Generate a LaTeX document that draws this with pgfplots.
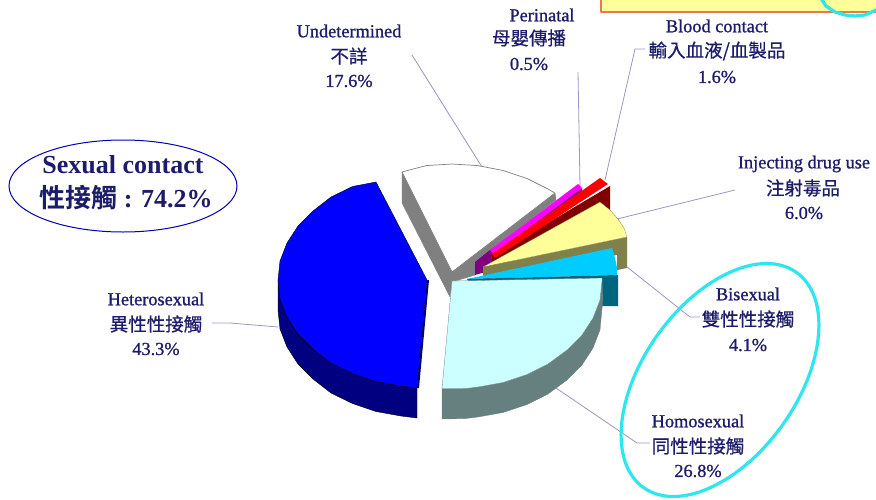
\documentclass[border=0pt]{standalone}
\usepackage{pgfplots}
\pgfplotsset{compat=1.18}
\usepackage{fontspec}
\usetikzlibrary{shapes.geometric}
\setmainfont{Liberation Serif}
\newfontfamily\lab[FakeBold=1]{Liberation Serif}
\newfontfamily\labb{Liberation Serif Bold}
\newfontfamily\cjk[FakeBold=0.6]{Noto Sans CJK TC}
\newfontfamily\cjkb{Noto Sans CJK TC Bold}
\definecolor{tx}{HTML}{1C1C6A}
\definecolor{ld}{HTML}{9A98C0}
\definecolor{cy}{HTML}{2EE6EE}
\definecolor{byl}{HTML}{FFFF99}
\definecolor{bor}{HTML}{E87850}
\definecolor{c1}{HTML}{0000FF}
\definecolor{c1d}{HTML}{000080}
\definecolor{c2}{HTML}{CCFFFF}
\definecolor{c2d}{HTML}{668080}
\definecolor{c3}{HTML}{00CCFF}
\definecolor{c3d}{HTML}{006680}
\definecolor{c4}{HTML}{FFFF99}
\definecolor{c4d}{HTML}{80804D}
\definecolor{c5}{HTML}{FF0000}
\definecolor{c5d}{HTML}{800000}
\definecolor{c6}{HTML}{FF00FF}
\definecolor{c6d}{HTML}{800080}
\definecolor{c7d}{HTML}{808080}
\begin{document}
\begin{tikzpicture}
\useasboundingbox (0,0) rectangle (876pt,499pt);
\clip (0,0) rectangle (876pt,499pt);
\begin{axis}[hide axis,scale only axis,width=876pt,height=499pt,xmin=0,xmax=876,ymin=0,ymax=499,y dir=reverse,
  every axis plot/.append style={line join=round}]
% box at top right
\addplot[fill=byl,draw=bor,line width=1.2pt] coordinates {(601,-10)(601,12)(890,12)(890,-10)} --cycle;
\addplot[draw=cy,line width=3.2pt] coordinates {(820,-3)(826,6)(835,12)(845,15)(855,16)(865,15)(876,10)(882,6)};
% leader lines
\addplot[draw=ld,line width=.8pt] coordinates {(412,55)(482,167)};
\addplot[draw=ld,line width=.8pt] coordinates {(578,72)(580,186)};
\addplot[draw=ld,line width=.8pt] coordinates {(645,49)(635,49)(605,180)};
\addplot[draw=ld,line width=.8pt] coordinates {(735,190)(617,219)};
\addplot[draw=ld,line width=.8pt] coordinates {(700,317)(690,317)(622,263)};
\addplot[draw=ld,line width=.8pt] coordinates {(650,443)(637,443)(556,388)};
\addplot[draw=ld,line width=.8pt] coordinates {(278,327)(230,323)(212,323)};
% blue side
\addplot[fill=c1d,draw=black,line width=.4pt] coordinates {(278,280)(280,299)(287,317)(298,334)(313,349)(331,363)(352.5,373.5)(376,381.5)(401,386)(417,388)(417,418)(401,416)(376,411.5)(352.5,403.5)(331,393)(313,379)(298,364)(287,347)(280,329)(278,310)} --cycle;
\addplot[fill=c1d,draw=none] coordinates {(427,280)(429,280)(419,388)(417,388)} --cycle;
\addplot[fill=c1,draw=black,line width=.4pt] coordinates {(427,280)(376,182)(352.5,186.5)(331,197)(313,211)(298,226)(287,243)(280,261)(278,280)(280,299)(287,317)(298,334)(313,349)(331,363)(352.5,373.5)(376,381.5)(401,386)(417,388)} --cycle;
% white slice
\addplot[fill=c7d,draw=c7d,line width=.4pt] coordinates {(402,172)(452,272)(555,193)(556,200)(475,262)(475,275)(452,282)(450,297)(402,203)} --cycle;
\addplot[fill=white,draw=c7d,line width=.7pt] coordinates {(452,272)(402,172)(426,165.6)(452,164)(478,165.6)(503,170.5)(527,178.5)(548,189)(555,193)} --cycle;
% magenta
\addplot[fill=c6d,draw=none] coordinates {(475,262)(490,250)(582,188)(582,192)(492,262)(492,270)(475,275)} --cycle;
\addplot[fill=c6,draw=none] coordinates {(490,250)(578,184)(582,188)(494,254)} --cycle;
% red
\addplot[fill=c5d,draw=none] coordinates {(492,256)(610,186)(610,212)(492,270)} --cycle;
\addplot[fill=c5,draw=none] coordinates {(492,254)(600,178)(608,184)(495,258)} --cycle;
% yellow
\addplot[fill=c4d,draw=none] coordinates {(483,267)(627,237)(627,268)(617,270)(617,255)(483,280)} --cycle;
\addplot[fill=c4,draw=c4d,line width=.3pt] coordinates {(483,267)(600,202)(610,210)(618,219)(624,228)(627,237)} --cycle;
% cyan
\addplot[fill=c3d,draw=none] coordinates {(600,277)(618,275)(618,306)(600,306)} --cycle;
\addplot[fill=c3,draw=none] coordinates {(467,279)(612,248)(615,258)(617,268)(617,275)} --cycle;
\addplot[fill=c3d,draw=none] coordinates {(467,279)(617,275)(602,279)(468,281)} --cycle;
% light cyan
\addplot[fill=c2d,draw=c2d,line width=.3pt] coordinates {(602,281)(600,300)(593,318)(582,335)(567,350)(548,364)(527,374.5)(503,382.5)(478,387)(442,388.5)(442,419)(465,418.6)(478,417)(503,412.5)(527,404.5)(548,394)(567,380)(582,365)(593,348)(600,330)(603,298)} --cycle;
\addplot[fill=c2,draw=c2d,line width=.3pt] coordinates {(452,281)(602,278)(602,281)(600,300)(593,318)(582,335)(567,350)(548,364)(527,374.5)(503,382.5)(478,387)(465,388.6)(442,388.5)} --cycle;
% text
\newcommand{\lb}[3]{\node[text=tx,inner sep=0pt,font=\fontsize{18.3}{19}\lab] at (axis cs:#1,#2) {#3};}
\newcommand{\lc}[3]{\node[text=tx,inner sep=0pt,font=\fontsize{18.5}{19}\cjk] at (axis cs:#1,#2) {#3};}
\lb{349}{31}{Undetermined}\lc{349}{56}{不詳}\lb{349}{81}{17.6\%}
\lb{542}{15}{Perinatal}\lc{529}{38}{母嬰傳播}\lb{529}{64}{0.5\%}
\lb{717}{26}{Blood contact}\lc{717}{51}{輸入血液/血製品}\lb{717}{77}{1.6\%}
\lb{804}{164}{Injecting drug use}\lc{803}{188}{注射毒品}\lb{804}{213}{6.0\%}
\lb{748}{294}{Bisexual}\lc{748}{319}{雙性性接觸}\lb{748}{345}{4.1\%}
\lb{698}{421}{Homosexual}\lc{698}{446}{同性性接觸}\lb{698}{471}{26.8\%}
\lb{156}{299}{Heterosexual}\lc{156}{324}{異性性接觸}\lb{156}{349}{43.3\%}
\node[text=tx,inner sep=0pt,font=\fontsize{26}{27}\labb] at (axis cs:123,165) {Sexual contact};
\node[text=tx,inner sep=0pt,font=\fontsize{26}{27}\labb] at (axis cs:126,198) {{\cjkb 性接觸} : 74.2\%};
\node[draw=c1!70!black,line width=1pt,ellipse,minimum width=228pt,minimum height=92pt,inner sep=0pt] at (axis cs:123,186) {};
\node[draw=cy,line width=3.2pt,ellipse,minimum width=264pt,minimum height=154pt,inner sep=0pt,rotate=54.6] at (axis cs:720,380) {};
\end{axis}
\end{tikzpicture}
\end{document}
